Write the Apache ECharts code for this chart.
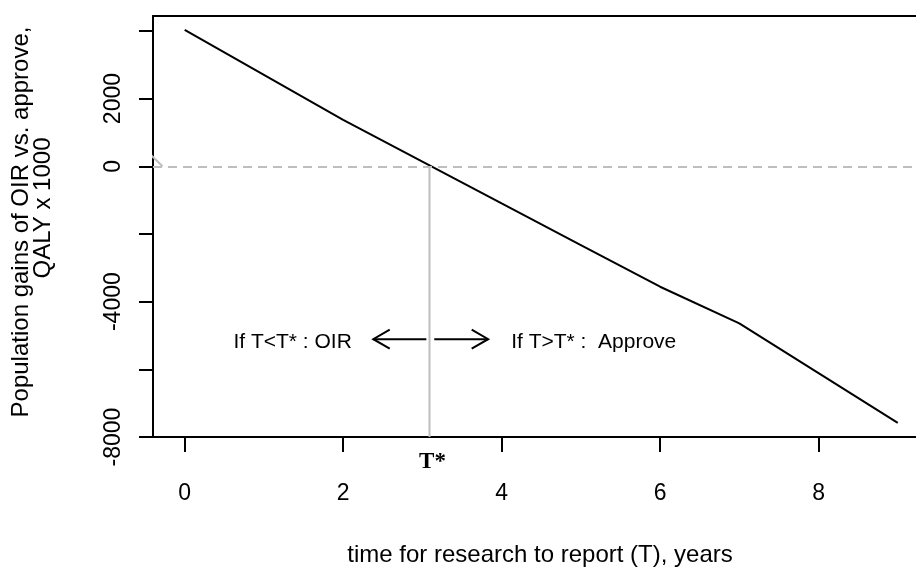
<!DOCTYPE html>
<html><head><meta charset="utf-8">
<script src="https://cdn.jsdelivr.net/npm/echarts@6/dist/echarts.min.js"></script>
<style>html,body{margin:0;padding:0;background:#fff}#c{width:916px;height:569px}</style>
</head><body><div id="c"></div>
<script>
// data
const years = [0, 1, 2, 3, 4, 5, 6, 7, 8, 9];
const gains = [4030, 2700, 1370, 140, -1100, -2330, -3560, -4640, -6110, -7580];
const xTicks = [0, 2, 4, 6, 8];
const yTicks = [-8000, -6000, -4000, -2000, 0, 2000, 4000];
const yTickLabels = [-8000, -4000, 0, 2000];
const tStar = 3.09;
const arrowY = -5110;
const arrowSpans = [[3.05, 2.38], [3.15, 3.83]];
const leftNote = 'If T<T* : OIR';
const rightNote = 'If T>T* :  Approve';
const noteY = -5190;
const leftNoteX = 2.11;
const rightNoteX = 4.12;
const edgeMark = [[-0.42, 320], [-0.28, 0]];

const chart = echarts.init(document.getElementById('c'), null, {renderer: 'canvas'});
const F = 'Liberation Sans, Arial, sans-serif';
const X_MIN = -0.4, X_MAX = 9.23;
const option = {
  animation: false,
  grid: {left: 153, top: 16, right: 0, bottom: 132, show: false, containLabel: false},
  xAxis: [{
    type: 'value', min: X_MIN, max: X_MAX,
    axisLine: {show: true, onZero: false, lineStyle: {color: '#000', width: 2}},
    axisTick: {show: true, length: 15, lineStyle: {color: '#000', width: 2}, customValues: xTicks},
    axisLabel: {show: true, customValues: xTicks, color: '#000', fontFamily: F, fontSize: 23, margin: 45, formatter: v => String(v)},
    splitLine: {show: false}
  }, {
    type: 'value', position: 'top', min: X_MIN, max: X_MAX,
    axisLine: {show: true, onZero: false, lineStyle: {color: '#000', width: 2}},
    axisTick: {show: false}, axisLabel: {show: false}, splitLine: {show: false}
  }],
  yAxis: {
    type: 'value', min: -8000, max: 4440,
    axisLine: {show: true, onZero: false, lineStyle: {color: '#000', width: 2}},
    axisTick: {show: true, length: 14, lineStyle: {color: '#000', width: 2}, customValues: yTicks},
    axisLabel: {show: true, customValues: yTickLabels, rotate: 90, color: '#000', fontFamily: F, fontSize: 23, margin: 28, formatter: v => String(v)},
    splitLine: {show: false}
  },
  graphic: [
    {type: 'text', x: 540, y: 555, style: {text: 'time for research to report (T), years', font: '24px ' + F, fill: '#000', align: 'center', verticalAlign: 'middle'}},
    {type: 'text', x: 21, y: 222, rotation: Math.PI / 2, style: {text: 'Population gains of OIR vs. approve,', font: '24px ' + F, fill: '#000', align: 'center', verticalAlign: 'middle'}},
    {type: 'text', x: 43, y: 208, rotation: Math.PI / 2, style: {text: 'QALY x 1000', font: '24px ' + F, fill: '#000', align: 'center', verticalAlign: 'middle'}}
  ],
  series: [
    {
      type: 'line', data: edgeMark, showSymbol: false, symbol: 'none', silent: true,
      lineStyle: {color: '#bebebe', width: 2}, z: 1
    },
    {
      type: 'line', data: [[tStar, 0], [tStar, -8000]], showSymbol: false, symbol: 'none', silent: true,
      lineStyle: {color: '#bebebe', width: 2}, z: 1
    },
    {
      type: 'line', data: years.map((x, i) => [x, gains[i]]), showSymbol: false, symbol: 'none',
      lineStyle: {color: '#000', width: 2}, z: 3,
      markLine: {silent: true, symbol: 'none', label: {show: false}, data: [{yAxis: 0}],
        lineStyle: {color: '#bebebe', type: [9, 6], width: 2}}
    },
    {
      type: 'custom', clip: false, silent: true, z: 4,
      data: arrowSpans.map(a => [a[0], a[1], arrowY]),
      encode: {x: [0, 1], y: 2},
      renderItem(params, api) {
        const p0 = api.coord([api.value(0), api.value(2)]);
        const p1 = api.coord([api.value(1), api.value(2)]);
        const dir = Math.sign(p1[0] - p0[0]);
        const L = 19, a = Math.PI / 6;
        const hx = -dir * L * Math.cos(a), hy = L * Math.sin(a);
        return {type: 'group', children: [
          {type: 'line', shape: {x1: p0[0], y1: p0[1], x2: p1[0], y2: p1[1]}, style: {stroke: '#000', lineWidth: 2}},
          {type: 'polyline', shape: {points: [[p1[0] + hx, p1[1] - hy], [p1[0], p1[1]], [p1[0] + hx, p1[1] + hy]]}, style: {stroke: '#000', lineWidth: 2, fill: null}}
        ]};
      }
    },
    {
      type: 'custom', clip: false, silent: true, z: 4,
      data: [[leftNoteX, noteY, 0], [rightNoteX, noteY, 1]],
      renderItem(params, api) {
        const p = api.coord([api.value(0), api.value(1)]);
        const isLeft = api.value(2) === 0;
        return {type: 'text', x: p[0], y: p[1], style: {text: isLeft ? leftNote : rightNote, font: '21px ' + F, fill: '#000', align: isLeft ? 'right' : 'left', verticalAlign: 'middle'}};
      }
    },
    {
      type: 'custom', clip: false, silent: true, z: 4,
      data: [[tStar, -8000]],
      renderItem(params, api) {
        const p = api.coord([api.value(0), api.value(1)]);
        return {type: 'text', x: p[0] + 3, y: p[1] + 25, style: {text: 'T*', font: 'bold 23px Liberation Serif, Times New Roman, serif', fill: '#000', align: 'center', verticalAlign: 'middle'}};
      }
    }
  ]
};
chart.setOption(option);
</script>
</body></html>
